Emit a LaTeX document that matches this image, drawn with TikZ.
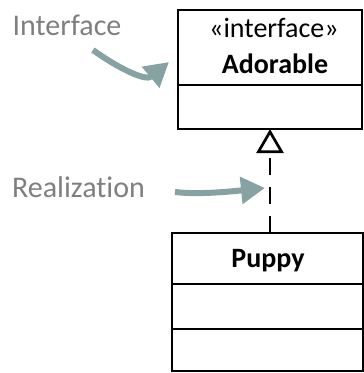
\documentclass[tikz,border=0pt]{standalone}
\usepackage{fontspec}
\setmainfont{Carlito}[RawFeature=-liga]
\usetikzlibrary{arrows.meta}
\definecolor{notegray}{RGB}{127,127,127}
\definecolor{calloutgray}{RGB}{134,162,162}

\begin{document}
\begin{tikzpicture}[x=1pt,y=-1pt,
  compartment/.style={draw,line width=2.7pt,inner sep=0pt,outer sep=0pt},
  umltext/.style={anchor=base,font=\fontsize{28}{34}\selectfont},
  umlname/.style={anchor=base,font=\fontsize{28}{34}\selectfont\bfseries},
  note/.style={anchor=base,text=notegray,font=\fontsize{30}{36}\selectfont},
  callout/.style={draw=calloutgray,line width=6pt,-{Triangle[length=24pt,width=26pt]}},
  realize/.style={line width=2.7pt,dash pattern=on 17pt off 12pt,-{Triangle[open,length=24pt,width=27pt]}}]
\useasboundingbox (0,0) rectangle (364,373);
% interface Adorable
\node (adorablehead) [compartment,minimum width=184pt,minimum height=75pt] at (270,47.5) {};
\node (adorableops) [compartment,minimum width=184pt,minimum height=44pt] at (270,107) {};
\node (stereotype) [umltext] at (274,37) {«interface»};
\node (adorable) [umlname] at (275,73) {Adorable};
% class Puppy
\node (puppyhead) [compartment,minimum width=191pt,minimum height=51pt] at (267.5,258.5) {};
\node (puppyattrs) [compartment,minimum width=191pt,minimum height=45pt] at (267.5,306.5) {};
\node (puppyops) [compartment,minimum width=191pt,minimum height=42pt] at (267.5,350) {};
\node (puppy) [umlname] at (268,267) {Puppy};
\draw [realize] (puppyhead.north -| adorableops.south) -- (adorableops.south);
% notes
\node (interfacenote) [note] at (67,35) {Interface};
\node (realizationnote) [note] at (78.5,197) {Realization};
\coordinate (interfacefrom) at (93,50);
\coordinate (interfaceto) at (169,62);
\draw [callout] (interfacefrom) .. controls (115,66) and (145,82) .. (interfaceto);
\coordinate (realizationfrom) at (175,192);
\coordinate (realizationto) at (265,188);
\draw [callout] (realizationfrom) .. controls (200,195) and (235,191) .. (realizationto);
\end{tikzpicture}
\end{document}
